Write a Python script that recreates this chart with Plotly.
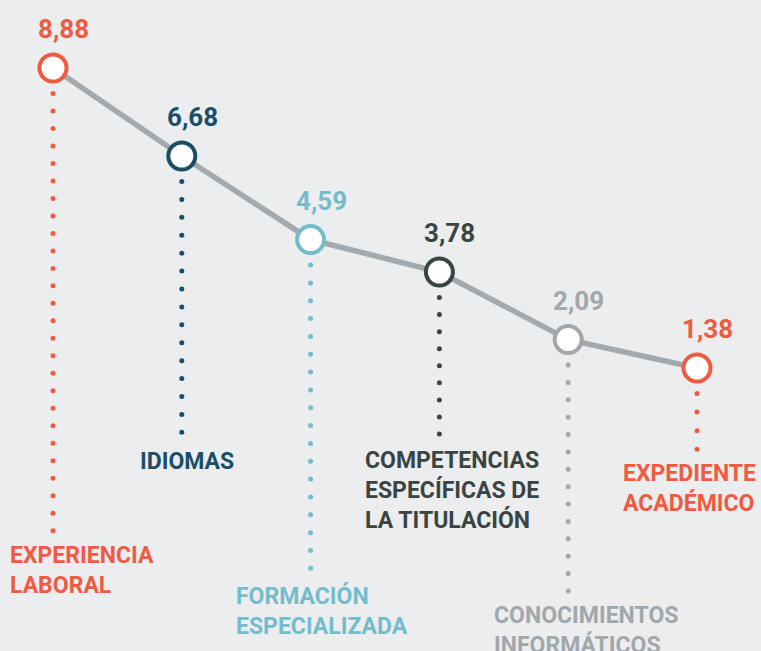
import numpy as np
import plotly.graph_objects as go

# ---- data -------------------------------------------------------------
categories = [
    "EXPERIENCIA<br>LABORAL",
    "IDIOMAS",
    "FORMACIÓN<br>ESPECIALIZADA",
    "COMPETENCIAS<br>ESPECÍFICAS DE<br>LA TITULACIÓN",
    "CONOCIMIENTOS<br>INFORMÁTICOS",
    "EXPEDIENTE<br>ACADÉMICO",
]
values = [8.88, 6.68, 4.59, 3.78, 2.09, 1.38]
value_labels = ["8,88", "6,68", "4,59", "3,78", "2,09", "1,38"]
colors = ["#ef5a40", "#1b4d68", "#74bccb", "#3a4442", "#a1a7ab", "#ef5a40"]

# ---- layout constants ------------------------------------------------------
W, H = 761, 651
BG = "#ebedef"
LINE_GREY = "#a3a9ac"
FONT = "Roboto"

X0_PX, X_STEP_PX = 53, 128.8          # first point position and spacing
PX_PER_UNIT, ZERO_PX = 40.0, 423.2    # vertical scale
x_range = [-X0_PX / X_STEP_PX, (W - X0_PX) / X_STEP_PX]
y_range = [(ZERO_PX - H) / PX_PER_UNIT, ZERO_PX / PX_PER_UNIT]

# dotted stems: gap below each point and lower end (px from top)
STEM_GAP_PX = 25.5
stem_bottom_px = [530.7, 432.3, 568.3, 434.0, 591.0, 449.3]
DOT_SPACING_PX = 17.6

# category label placement: left edge relative to the point, vertical centre
label_dx_px = [-45, -44, -77, -76, -76, -76]
label_cy_px = [570, 461, 611, 490, 630, 488]

x = np.arange(len(values))

fig = go.Figure()

# connecting line
fig.add_trace(go.Scatter(
    x=x, y=values, mode="lines",
    line=dict(color=LINE_GREY, width=5.5),
    hoverinfo="skip", showlegend=False,
))

# dotted stems beneath each point
for i, v in enumerate(values):
    top = v - STEM_GAP_PX / PX_PER_UNIT
    bottom = (ZERO_PX - stem_bottom_px[i]) / PX_PER_UNIT
    n = int(round((top - bottom) * PX_PER_UNIT / DOT_SPACING_PX)) + 1
    ys = np.linspace(top, bottom, n)
    fig.add_trace(go.Scatter(
        x=np.full(n, i), y=ys, mode="markers",
        marker=dict(size=5, color=colors[i]),
        hoverinfo="skip", showlegend=False,
    ))

# point markers
fig.add_trace(go.Scatter(
    x=x, y=values, mode="markers",
    marker=dict(size=27, color="white", line=dict(color=colors, width=4)),
    hoverinfo="skip", showlegend=False,
))

# value labels above the points
for i, v in enumerate(values):
    fig.add_annotation(
        x=i, y=v, xref="x", yref="y", text=value_labels[i],
        showarrow=False, xanchor="center", yanchor="middle",
        xshift=10.5, yshift=39,
        font=dict(family=FONT, size=26, color=colors[i], weight="bold"),
    )

# category labels at the foot of the stems
for i, name in enumerate(categories):
    fig.add_annotation(
        x=i, y=1 - label_cy_px[i] / H, xref="x", yref="paper", text=name,
        showarrow=False, xanchor="left", yanchor="middle", align="left",
        xshift=label_dx_px[i],
        font=dict(family=FONT, size=23, color=colors[i], weight="bold"),
    )

fig.update_layout(
    width=W, height=H, autosize=False,
    margin=dict(l=0, r=0, t=0, b=0),
    paper_bgcolor=BG, plot_bgcolor=BG,
    xaxis=dict(range=x_range, visible=False, fixedrange=True),
    yaxis=dict(range=y_range, visible=False, fixedrange=True),
    showlegend=False,
)

fig.write_html("out.html")
